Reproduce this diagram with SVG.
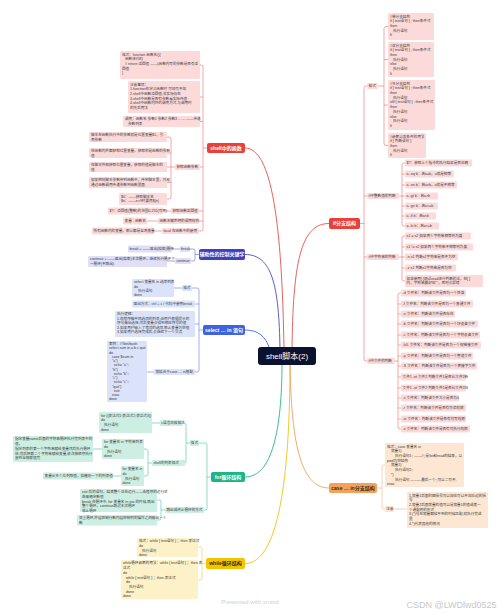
<svg xmlns="http://www.w3.org/2000/svg" width="500" height="613" viewBox="0 0 500 613">
<style>
.t{font-family:"Liberation Sans","Noto Sans CJK SC",sans-serif;font-size:3.6px;fill:#3a3a3a}
.m{font-family:"Liberation Sans","Noto Sans CJK SC",sans-serif;font-size:5px;fill:#fff;text-anchor:middle;font-weight:bold}
.pk{fill:#fcdada}
.bl{fill:#dfdff6}
.sb{fill:#dbe3fa}
.gr{fill:#cdeee2}
.yl{fill:#fdf1c8}
.or{fill:#fde6d2}
.c{fill:none;stroke-width:0.5}
.cr{stroke:#e4504b}.cb{stroke:#4b4cc0}.cs{stroke:#3f66dc}.cg{stroke:#22b58c}.cy{stroke:#f0c30f}.co{stroke:#f0a060}
.mc{fill:none;stroke-width:0.9}
.wm{font-family:"Liberation Sans",sans-serif;fill:#cfcfcf}
</style>
<rect width="500" height="613" fill="#fff"/>

<g id="connectors">
<path class="mc cr" d="M284 350 C282 225 272 148 245 148"/>
<path class="mc cb" d="M280 350 C279 285 272 254.5 245 254.5"/>
<path class="mc cs" d="M270 350 C266 336 258 330 245 330"/>
<path class="mc cg" d="M282 362 C282 430 272 477 245 477"/>
<path class="mc cy" d="M290 362 C290 480 278 563.5 245 563.5"/>
<path class="mc cr" d="M292 350 C293 265 300 223.5 329 223.5"/>
<path class="mc co" d="M290 362 C291 440 300 488 329 488"/>
<!-- if -->
<path class="c cr" d="M360 223.5 H364 M367 86 H366 Q364 86 364 88 V359 Q364 361 366 361 H367 M364 196 H367 M364 257 H367"/>
<path class="c cr" d="M378 86 H384 M388 26.5 H386 Q384 26.5 384 28.5 V143.5 Q384 145.5 386 145.5 H388 M384 59.5 H388 M384 105 H388"/>
<path class="c cr" d="M399 196 H402 M405 163 H404 Q402 163 402 165 V224 Q402 226 404 226 H405 M402 174 H405 M402 185 H405 M402 196 H405 M402 206 H405 M402 216 H405"/>
<path class="c cr" d="M399 257 H402 M405 236 H404 Q402 236 402 238 V279 Q402 281 404 281 H405 M402 247 H405 M402 257 H405 M402 268 H405"/>
<path class="c cr" d="M395 361 H398 M401 293 H400 Q398 293 398 295 V427 Q398 429 400 429 H401 M398 304 H401 M398 314 H401 M398 324 H401 M398 335 H401 M398 345 H401 M398 356 H401 M398 366 H401 M398 377 H401 M398 388 H401 M398 398 H401 M398 408 H401 M398 419 H401"/>
<!-- case -->
<path class="c co" d="M377 488 H382 M385 465 H384 Q382 465 382 467 V507 Q382 509 384 509 H385 M394 509 H407"/>
<!-- shell functions -->
<path class="c cr" d="M207 148 H203 M200 65 H201 Q203 65 203 67 V229 Q203 231 201 231 H199 M203 97 H200 M203 121.5 H200 M203 167 H200 M203 211 H199 M203 221 H199"/>
<path class="c cr" d="M175 167 H171 M167 137 H169 Q171 137 171 139 V197 Q171 199 169 199 H167 M171 153 H167 M171 167 H167 M171 182.5 H167"/>
<path class="c cr" d="M163 211 H171 M147 221 H158 M154 231 H162"/>
<!-- aux -->
<path class="c cb" d="M199 254.5 H195 M190 249 H193 Q195 249 195 251 V259 Q195 261 193 261 H191 M172 249 H180 M167 261 H175"/>
<!-- select -->
<path class="c cs" d="M203 330 H199 M192 288 H197 Q199 288 199 290 V370 Q199 372 197 372 H195 M199 304 H195 M199 324 H195 M174 288 H182 M147 372 H154"/>
<!-- for -->
<path class="c cg" d="M211 477 H207 M199 443 H205 Q207 443 207 445 V508 Q207 510 205 510 H204"/>
<path class="c cg" d="M190 443 H186 M183 423 H184 Q186 423 186 425 V461 Q186 463 185 463 M152 423 H160"/>
<path class="c cg" d="M152 463 H148 M144 449 H146 Q148 449 148 451 V474 Q148 476 146 476 H144 M93 449 H102 M113 476 H121"/>
<path class="c cg" d="M165 510 H161 M157 500 H159 Q161 500 161 502 V518 Q161 520 159 520 H157"/>
<!-- while -->
<path class="c cy" d="M206 563.5 H202 M198 547 H200 Q202 547 202 549 V578 Q202 580 200 580 H198"/>
</g>

<g id="center"><rect x="258" y="347" width="58" height="18" rx="3" fill="#0b1230"/><text x="287" y="359" style="font-family:'Liberation Sans','Noto Sans CJK SC',sans-serif;font-size:8px;fill:#fff;text-anchor:middle">shell脚本(2)</text></g>

<!-- main nodes -->
<g id="n-if"><rect x="329" y="218" width="31" height="11" rx="2" fill="#e8413a"/><text class="m" x="344.5" y="225.3">if分支结构</text></g>
<g id="n-case"><rect x="329" y="483" width="48" height="10" rx="2" fill="#f4a25a"/><text class="m" x="353" y="489.8" style="fill:#3a2a1a">case … in分支结构</text></g>
<g id="n-func"><rect x="207" y="143" width="38" height="10" rx="2" fill="#e8413a"/><text class="m" x="226" y="149.8">shell中的函数</text></g>
<g id="n-aux"><rect x="199" y="249" width="46" height="11" rx="2" fill="#4040b8"/><text class="m" x="222" y="256.3">辅助性的控制关键字</text></g>
<g id="n-select"><rect x="203" y="325" width="42" height="10" rx="2" fill="#3d64e0"/><text class="m" x="224" y="331.8">select … in 语句</text></g>
<g id="n-for"><rect x="211" y="472" width="34" height="10" rx="2" fill="#1db486"/><text class="m" x="228" y="478.8">for循环结构</text></g>
<g id="n-while"><rect x="206" y="558" width="39" height="11" rx="2" fill="#f5c400"/><text class="m" x="225.5" y="565.3" style="fill:#3a2a00">while循环结构</text></g>

<!-- if branch -->
<g id="if-fmt"><rect class="pk" x="367" y="83" width="11" height="6" rx="1"/><text class="t" x="368.6" y="87.3">格式</text></g>
<g id="if-fmt-1"><rect class="pk" x="388" y="13" width="46" height="27" rx="1"/><text class="t" y="17.6"><tspan x="390">#单分支结构</tspan><tspan x="390" dy="4.7">if [ test语句 ] ; then条件式</tspan><tspan x="390" dy="4.7">then</tspan><tspan x="393" dy="4.7">执行语句</tspan><tspan x="390" dy="4.7">fi</tspan></text></g>
<g id="if-fmt-2"><rect class="pk" x="388" y="42" width="46" height="35" rx="1"/><text class="t" y="46.6"><tspan x="390">#双分支结构</tspan><tspan x="390" dy="4.7">if [ test语句 ] ; then条件式</tspan><tspan x="390" dy="4.7">then</tspan><tspan x="393" dy="4.7">执行语句</tspan><tspan x="390" dy="4.7">else</tspan><tspan x="393" dy="4.7">执行语句</tspan><tspan x="390" dy="4.7">fi</tspan></text></g>
<g id="if-fmt-3"><rect class="pk" x="388" y="80" width="47" height="50" rx="1"/><text class="t" y="84.6"><tspan x="390">#多分支结构</tspan><tspan x="390" dy="4.7">if [ test语句 ] ; then条件式</tspan><tspan x="390" dy="4.7">then</tspan><tspan x="393" dy="4.7">执行语句</tspan><tspan x="390" dy="4.7">elif [ test语句 ] ; then条件式</tspan><tspan x="390" dy="4.7">then</tspan><tspan x="393" dy="4.7">执行语句</tspan><tspan x="390" dy="4.7">else</tspan><tspan x="393" dy="4.7">执行语句</tspan><tspan x="390" dy="4.7">fi</tspan></text></g>
<g id="if-fmt-4"><rect class="pk" x="388" y="133" width="38" height="25" rx="1"/><text class="t" y="137.6"><tspan x="390">#嵌套以及条件的用法</tspan><tspan x="390" dy="4.7">if [ 判断语句 ]</tspan><tspan x="390" dy="4.7">then</tspan><tspan x="393" dy="4.7">执行语句</tspan><tspan x="390" dy="4.7">fi</tspan></text></g>

<g id="if-int"><rect class="pk" x="367" y="193" width="32" height="6" rx="1"/><text class="t" x="368.6" y="197.3">if中整数值的判断</text></g>
<g id="if-int-1"><rect class="pk" x="405" y="159.5" width="67" height="7" rx="1"/><text class="t" x="406.6" y="164.3">$?：获取上个指令的执行结果是否正确</text></g>
<g id="if-int-2"><rect class="pk" x="405" y="170.5" width="49" height="7" rx="1"/><text class="t" x="406.6" y="175.3">a -eq b：若a=b，a就是相等</text></g>
<g id="if-int-3"><rect class="pk" x="405" y="181.5" width="52" height="7" rx="1"/><text class="t" x="406.6" y="186.3">a -ne b：若a≠b，a就是不相等</text></g>
<g id="if-int-4"><rect class="pk" x="405" y="192.5" width="33" height="7" rx="1"/><text class="t" x="406.6" y="197.3">a -gt b：若a&gt;b</text></g>
<g id="if-int-5"><rect class="pk" x="405" y="202.5" width="33" height="7" rx="1"/><text class="t" x="406.6" y="207.3">a -ge b：若a&gt;=b</text></g>
<g id="if-int-6"><rect class="pk" x="405" y="212.5" width="31" height="7" rx="1"/><text class="t" x="406.6" y="217.3">a -lt b：若a&lt;b</text></g>
<g id="if-int-7"><rect class="pk" x="405" y="222.5" width="34" height="7" rx="1"/><text class="t" x="406.6" y="227.3">a -le b：若a&lt;=b</text></g>

<g id="if-str"><rect class="pk" x="367" y="254" width="32" height="6" rx="1"/><text class="t" x="368.6" y="258.3">if中字符串的判断</text></g>
<g id="if-str-1"><rect class="pk" x="405" y="232.5" width="66" height="7" rx="1"/><text class="t" x="406.6" y="237.3">s1 = s2 如果两个字符串相等则为真</text></g>
<g id="if-str-2"><rect class="pk" x="405" y="243.5" width="68" height="7" rx="1"/><text class="t" x="406.6" y="248.3">s1 != s2 如果两个字符串不相等则为真</text></g>
<g id="if-str-3"><rect class="pk" x="405" y="253.5" width="53" height="7" rx="1"/><text class="t" x="406.6" y="258.3">-n s1 判断s1字符串是否不为空</text></g>
<g id="if-str-4"><rect class="pk" x="405" y="264.5" width="51" height="7" rx="1"/><text class="t" x="406.6" y="269.3">-z s1 判断s1字符串是否为空</text></g>
<g id="if-str-5"><rect class="pk" x="405" y="275" width="78" height="12" rx="1"/><text class="t" y="279.6"><tspan x="406.6">如果使用[ ]测试read进行判断的话，在[ ]</tspan><tspan x="406.6" dy="4.7">内，字符串最好加""，否则会报错</tspan></text></g>

<g id="if-file"><rect class="pk" x="367" y="358" width="28" height="6" rx="1"/><text class="t" x="368.6" y="362.3">if中文件的判断</text></g>
<g id="if-file-1"><rect class="pk" x="401" y="289.5" width="65" height="7" rx="1"/><text class="t" x="402.6" y="294.3">-d 文件名：判断该文件是否为一个目录</text></g>
<g id="if-file-2"><rect class="pk" x="401" y="300.5" width="72" height="7" rx="1"/><text class="t" x="402.6" y="305.3">-f 文件名：判断该文件是否为一个普通文件</text></g>
<g id="if-file-3"><rect class="pk" x="401" y="310.5" width="54" height="7" rx="1"/><text class="t" x="402.6" y="315.3">-e 文件名：判断该文件是否存在</text></g>
<g id="if-file-4"><rect class="pk" x="401" y="320.5" width="77" height="7" rx="1"/><text class="t" x="402.6" y="325.3">-b 文件名：判断该文件是否为一个块设备文件</text></g>
<g id="if-file-5"><rect class="pk" x="401" y="331.5" width="79" height="7" rx="1"/><text class="t" x="402.6" y="336.3">-c 文件名：判断该文件是否为一个字符设备文件</text></g>
<g id="if-file-6"><rect class="pk" x="401" y="341.5" width="80" height="7" rx="1"/><text class="t" x="402.6" y="346.3">-h/L 文件名：判断该文件是否为一个软链接文件</text></g>
<g id="if-file-7"><rect class="pk" x="401" y="352.5" width="72" height="7" rx="1"/><text class="t" x="402.6" y="357.3">-p 文件名：判断该文件是否为一个管道文件</text></g>
<g id="if-file-8"><rect class="pk" x="401" y="362.5" width="76" height="7" rx="1"/><text class="t" x="402.6" y="367.3">-S 文件名：判断该文件是否为一个套接字文件</text></g>
<g id="if-file-9"><rect class="pk" x="401" y="373.5" width="65" height="7" rx="1"/><text class="t" x="402.6" y="378.3">文件1 -nt 文件2 判断文件1是否比文件2新</text></g>
<g id="if-file-10"><rect class="pk" x="401" y="384.5" width="65" height="7" rx="1"/><text class="t" x="402.6" y="389.3">文件1 -ot 文件2 判断文件1是否比文件2旧</text></g>
<g id="if-file-11"><rect class="pk" x="401" y="394.5" width="58" height="7" rx="1"/><text class="t" x="402.6" y="399.3">-s 文件名：判断该文件大小是否为0</text></g>
<g id="if-file-12"><rect class="pk" x="401" y="404.5" width="65" height="7" rx="1"/><text class="t" x="402.6" y="409.3">-r 文件名：判断该文件是否有可读权限</text></g>
<g id="if-file-13"><rect class="pk" x="401" y="415.5" width="65" height="7" rx="1"/><text class="t" x="402.6" y="420.3">-w 文件名：判断该文件是否有可写权限</text></g>
<g id="if-file-14"><rect class="pk" x="401" y="425.5" width="69" height="7" rx="1"/><text class="t" x="402.6" y="430.3">-x 文件名：判断该文件是否有可执行权限</text></g>

<!-- case branch -->
<g id="case-fmt"><rect class="or" x="385" y="443" width="79" height="44" rx="1"/><text class="t" y="447.6"><tspan x="387">格式：case 变量名 in</tspan><tspan x="391" dy="4.7">常量1)</tspan><tspan x="395" dy="4.7">执行语句1;; ——#;;是for和read的结束，以</tspan><tspan x="387" dy="4.7">pwd为空结构</tspan><tspan x="391" dy="4.7">常量2)</tspan><tspan x="395" dy="4.7">执行语句2;;</tspan><tspan x="391" dy="4.7">*)</tspan><tspan x="395" dy="4.7">执行语句  ———最后一个;;可以二可不,</tspan><tspan x="387" dy="4.7">esac</tspan></text></g>
<g id="case-note"><rect class="or" x="385" y="506" width="9" height="6" rx="1"/><text class="t" x="386.2" y="510.3">注意</text></g>
<g id="case-note-1"><rect class="or" x="407" y="492" width="81" height="36" rx="1"/><text class="t" y="496.6"><tspan x="409">1.常量1后面的圆括号可以加也可以不加左边的括</tspan><tspan x="409" dy="4.7">号</tspan><tspan x="409" dy="4.7">2.常量2后面常量的值可以是常量1的值或者一</tspan><tspan x="409" dy="4.7">个通配符的形式</tspan><tspan x="409" dy="4.7">3.(*)号在常量都找不到的时候匹配,就执行完这</tspan><tspan x="409" dy="4.7">里</tspan><tspan x="409" dy="4.7">4.*)代表其他的情况</tspan></text></g>

<!-- shell function branch -->
<g id="fn-fmt"><rect class="pk" x="120" y="51" width="80" height="28" rx="1"/><text class="t" y="55.6"><tspan x="122">格式：function 函数名(){</tspan><tspan x="125" dy="4.7">函数体代码</tspan><tspan x="125" dy="4.7"># return 返回值 ——(函数内写的参数是否有返</tspan><tspan x="122" dy="4.7">回值</tspan><tspan x="122" dy="4.7">}</tspan></text></g>
<g id="fn-note"><rect class="pk" x="128" y="81" width="72" height="32" rx="1"/><text class="t" y="85.6"><tspan x="130">注意事项：</tspan><tspan x="130" dy="4.7">1.function在定义函数时 可加可不加</tspan><tspan x="130" dy="4.7">2.shell中函数返回值,非实际存在</tspan><tspan x="130" dy="4.7">3.shell中函数是否有参数看实际传值</tspan><tspan x="130" dy="4.7">4.shell中函数内外的调用方式,与调用时</tspan><tspan x="130" dy="4.7">的先后用法</tspan></text></g>
<g id="fn-call"><rect class="pk" x="123" y="116" width="77" height="11" rx="1"/><text class="t" y="120.4"><tspan x="125">调用：函数名 参数1 参数2 参数3 …… ——传递</tspan><tspan x="128" dy="4.7">参数列表</tspan></text></g>
<g id="fn-arg"><rect class="pk" x="175" y="164" width="25" height="6" rx="1"/><text class="t" x="176.5" y="168.3">获取函数参数</text></g>
<g id="fn-arg-1"><rect class="pk" x="89" y="132" width="78" height="10" rx="1"/><text class="t" y="136.3"><tspan x="91">脚本在函数执行中的参数就是位置变量$1，引</tspan><tspan x="91" dy="4.7">用参数</tspan></text></g>
<g id="fn-arg-2"><rect class="pk" x="89" y="148" width="78" height="10" rx="1"/><text class="t" y="152.3"><tspan x="91">在函数内外都获取位置变量，获取的是函数的参数</tspan><tspan x="91" dy="4.7">值</tspan></text></g>
<g id="fn-arg-3"><rect class="pk" x="89" y="162" width="78" height="10" rx="1"/><text class="t" y="166.3"><tspan x="91">在脚本外部获取位置变量，获取的值是脚本的</tspan><tspan x="91" dy="4.7">值</tspan></text></g>
<g id="fn-arg-4"><rect class="pk" x="89" y="177" width="78" height="11" rx="1"/><text class="t" y="181.4"><tspan x="91">如果想将脚本参数传到函数中，传到脚本里，只能</tspan><tspan x="91" dy="4.7">通过函数调用传递参数到函数里面</tspan></text></g>
<g id="fn-arg-5"><rect class="pk" x="119" y="193" width="48" height="12" rx="1"/><text class="t" y="197.6"><tspan x="121">$0：——获取脚本名</tspan><tspan x="121" dy="4.7">$n：——n&gt;9时要用${n}</tspan></text></g>
<g id="fn-ret"><rect class="pk" x="171" y="208" width="28" height="6" rx="1"/><text class="t" x="172.5" y="212.3">获取函数返回值</text></g>
<g id="fn-ret-1"><rect class="pk" x="108" y="207.5" width="55" height="7" rx="1"/><text class="t" x="109.6" y="212.3">$?：返回值(整数)的范围0-255(可用)</text></g>
<g id="fn-del"><rect class="pk" x="158" y="218" width="41" height="6" rx="1"/><text class="t" x="159.5" y="222.3">函数无需声明的调用规则</text></g>
<g id="fn-del-1"><rect class="pk" x="123" y="217.5" width="24" height="7" rx="1"/><text class="t" x="124.6" y="222.3">变量 - 函数名</text></g>
<g id="fn-local"><rect class="pk" x="162" y="228" width="37" height="6" rx="1"/><text class="t" x="163.5" y="232.3">local 在函数中的使用</text></g>
<g id="fn-local-1"><rect class="pk" x="92" y="227.5" width="62" height="7" rx="1"/><text class="t" x="93.6" y="232.3">所有函数内的变量，默认都是全局变量</text></g>

<!-- aux branch -->
<g id="aux-break"><rect class="bl" x="180" y="246" width="10" height="6" rx="1"/><text class="t" x="181" y="250.3">break</text></g>
<g id="aux-break-1"><rect class="bl" x="128" y="245.5" width="44" height="7" rx="1"/><text class="t" x="129.6" y="250.3">break + ——退出(结束)循环</text></g>
<g id="aux-cont"><rect class="bl" x="175" y="258" width="16" height="6" rx="1"/><text class="t" x="176.2" y="262.3">continue</text></g>
<g id="aux-cont-1"><rect class="bl" x="88" y="256" width="79" height="11" rx="1"/><text class="t" y="260.4"><tspan x="90">continue + ——退出(结束)本次循环，继续执行循环下</tspan><tspan x="90" dy="4.7">一循环(不跳出)</tspan></text></g>

<!-- select branch -->
<g id="sel-fmt"><rect class="sb" x="182" y="285" width="10" height="6" rx="1"/><text class="t" x="183.2" y="289.3">格式</text></g>
<g id="sel-fmt-1"><rect class="sb" x="132" y="279" width="42" height="18" rx="1"/><text class="t" y="283.3"><tspan x="134">select 变量名 in 选项列表</tspan><tspan x="134" dy="4.3">do</tspan><tspan x="138" dy="4.3">执行语句</tspan><tspan x="134" dy="4.3">done</tspan></text></g>
<g id="sel-exit"><rect class="sb" x="132" y="300.5" width="63" height="7" rx="1"/><text class="t" x="133.6" y="305.3">退出方式：ctrl + c / 代码中使用break</text></g>
<g id="sel-logic"><rect class="sb" x="115" y="311" width="80" height="26" rx="1"/><text class="t" y="315.4"><tspan x="117">执行逻辑：</tspan><tspan x="117" dy="4.5">1.在程序做不同选项的列表,由用户根据提示的</tspan><tspan x="117" dy="4.5">序号做出选择,然后变量会得到相应序号的值</tspan><tspan x="117" dy="4.5">2.如果用户输入了错误的选项,那么变量为空值</tspan><tspan x="117" dy="4.5">3.如果用户选择完成后,会继续下一个交流</tspan></text></g>
<g id="sel-case"><rect class="sb" x="154" y="369" width="41" height="6" rx="1"/><text class="t" x="155.5" y="373.3">常结合于case … in搭配</text></g>
<g id="sel-case-1"><rect class="sb" x="107" y="341" width="40" height="61" rx="1"/><text class="t" y="345"><tspan x="109">案例：#!/bin/bash</tspan><tspan x="109" dy="4.25">select sum in a b c quit</tspan><tspan x="109" dy="4.25">do</tspan><tspan x="112" dy="4.25">case $sum in</tspan><tspan x="112" dy="4.25">"a")</tspan><tspan x="114" dy="4.25">echo "a";;</tspan><tspan x="112" dy="4.25">"b")</tspan><tspan x="114" dy="4.25">echo "b";;</tspan><tspan x="112" dy="4.25">"c")</tspan><tspan x="114" dy="4.25">echo "c";;</tspan><tspan x="112" dy="4.25">"quit")</tspan><tspan x="114" dy="4.25">exit</tspan><tspan x="112" dy="4.25">esac</tspan><tspan x="109" dy="4.25">done</tspan></text></g>

<!-- for branch -->
<g id="for-fmt"><rect class="gr" x="190" y="440" width="9" height="6" rx="1"/><text class="t" x="190.8" y="444.3">格式</text></g>
<g id="for-c"><rect class="gr" x="160" y="420" width="23" height="6" rx="1"/><text class="t" x="161.3" y="424.3">c语言风格格式</text></g>
<g id="for-c-1"><rect class="gr" x="99" y="412" width="53" height="21" rx="1"/><text class="t" y="416.5"><tspan x="101">for ((表达式1;表达式2;表达式3))</tspan><tspan x="101" dy="4.7">do</tspan><tspan x="104" dy="4.7">执行语句</tspan><tspan x="101" dy="4.7">done</tspan></text></g>
<g id="for-list"><rect class="gr" x="152" y="460" width="33" height="6" rx="1"/><text class="t" x="153.5" y="464.3">shell的列表格式</text></g>
<g id="for-list-1"><rect class="gr" x="102" y="439" width="42" height="20" rx="1"/><text class="t" y="443.3"><tspan x="104">for 变量名 in 字符串列表</tspan><tspan x="104" dy="4.6">do</tspan><tspan x="107" dy="4.6">执行语句</tspan><tspan x="104" dy="4.6">done</tspan></text></g>
<g id="for-list-1n"><rect class="gr" x="13" y="436" width="80" height="26" rx="1"/><text class="t" y="440.4"><tspan x="15">指定变量name后面的字符串循环执行完列表中的</tspan><tspan x="15" dy="4.7">值，</tspan><tspan x="15" dy="4.7">指定列表的第一个字符串赋给变量然后执行循环</tspan><tspan x="15" dy="4.7">体,然后把第二个字符串赋给变量,依次按顺序执行</tspan><tspan x="15" dy="4.7">直到全部赋值完</tspan></text></g>
<g id="for-list-2"><rect class="gr" x="121" y="466" width="23" height="20" rx="1"/><text class="t" y="470.3"><tspan x="122.5">for 变量名 in</tspan><tspan x="122.5" dy="4.6">do</tspan><tspan x="125" dy="4.6">执行语句</tspan><tspan x="122.5" dy="4.6">done</tspan></text></g>
<g id="for-list-2n"><rect class="gr" x="43" y="472.5" width="70" height="7" rx="1"/><text class="t" x="44.6" y="477.3">变量从多个位列取值，如遍历一下的列表值</text></g>
<g id="for-jump"><rect class="gr" x="165" y="507" width="39" height="6" rx="1"/><text class="t" x="166.5" y="511.3">跳出或终止循环的方式</text></g>
<g id="for-jump-1"><rect class="gr" x="80" y="489" width="77" height="23" rx="1"/><text class="t" y="493.4"><tspan x="82">exit 后的语句，结束整个正在运行——由程序的运行状</tspan><tspan x="82" dy="4.6">态来确定数值</tspan><tspan x="82" dy="4.6">break 在循环中, for 变量名 in xxx 的时候,跳出</tspan><tspan x="82" dy="4.6">整个循环，continue跳过本次循环</tspan><tspan x="82" dy="4.6">停止循环</tspan></text></g>
<g id="for-jump-2"><rect class="gr" x="77" y="515" width="80" height="10.5" rx="1"/><text class="t" y="519.3"><tspan x="79">双重循环,外层控制行数内层控制列的操作之间输出一个</tspan><tspan x="79" dy="4.6">数</tspan></text></g>

<!-- while branch -->
<g id="while-fmt"><rect class="yl" x="137" y="538" width="61" height="19" rx="1"/><text class="t" y="542.4"><tspan x="139">格式：while [ test语句 ] ；then 表达式</tspan><tspan x="139" dy="4.6">do</tspan><tspan x="142" dy="4.6">执行语句</tspan><tspan x="139" dy="4.6">done</tspan></text></g>
<g id="while-nest"><rect class="yl" x="121" y="560" width="77" height="39" rx="1"/><text class="t" y="564.4"><tspan x="123">while循环嵌套的用法：while [ test语句 ] ；then 表</tspan><tspan x="123" dy="4.7">达式</tspan><tspan x="123" dy="4.7">do</tspan><tspan x="126" dy="4.7">while [ test语句 ] ；then 表达式</tspan><tspan x="126" dy="4.7">do</tspan><tspan x="129" dy="4.7">执行语句</tspan><tspan x="126" dy="4.7">done</tspan><tspan x="123" dy="4.7">done</tspan></text></g>

<text class="wm" x="250" y="604" style="font-size:6px;text-anchor:middle">Presented with xmind</text>
<text class="wm" x="451.5" y="608" style="font-size:9px;text-anchor:middle;fill:#c8c8c8">CSDN @LWDlwd0525</text>
</svg>
